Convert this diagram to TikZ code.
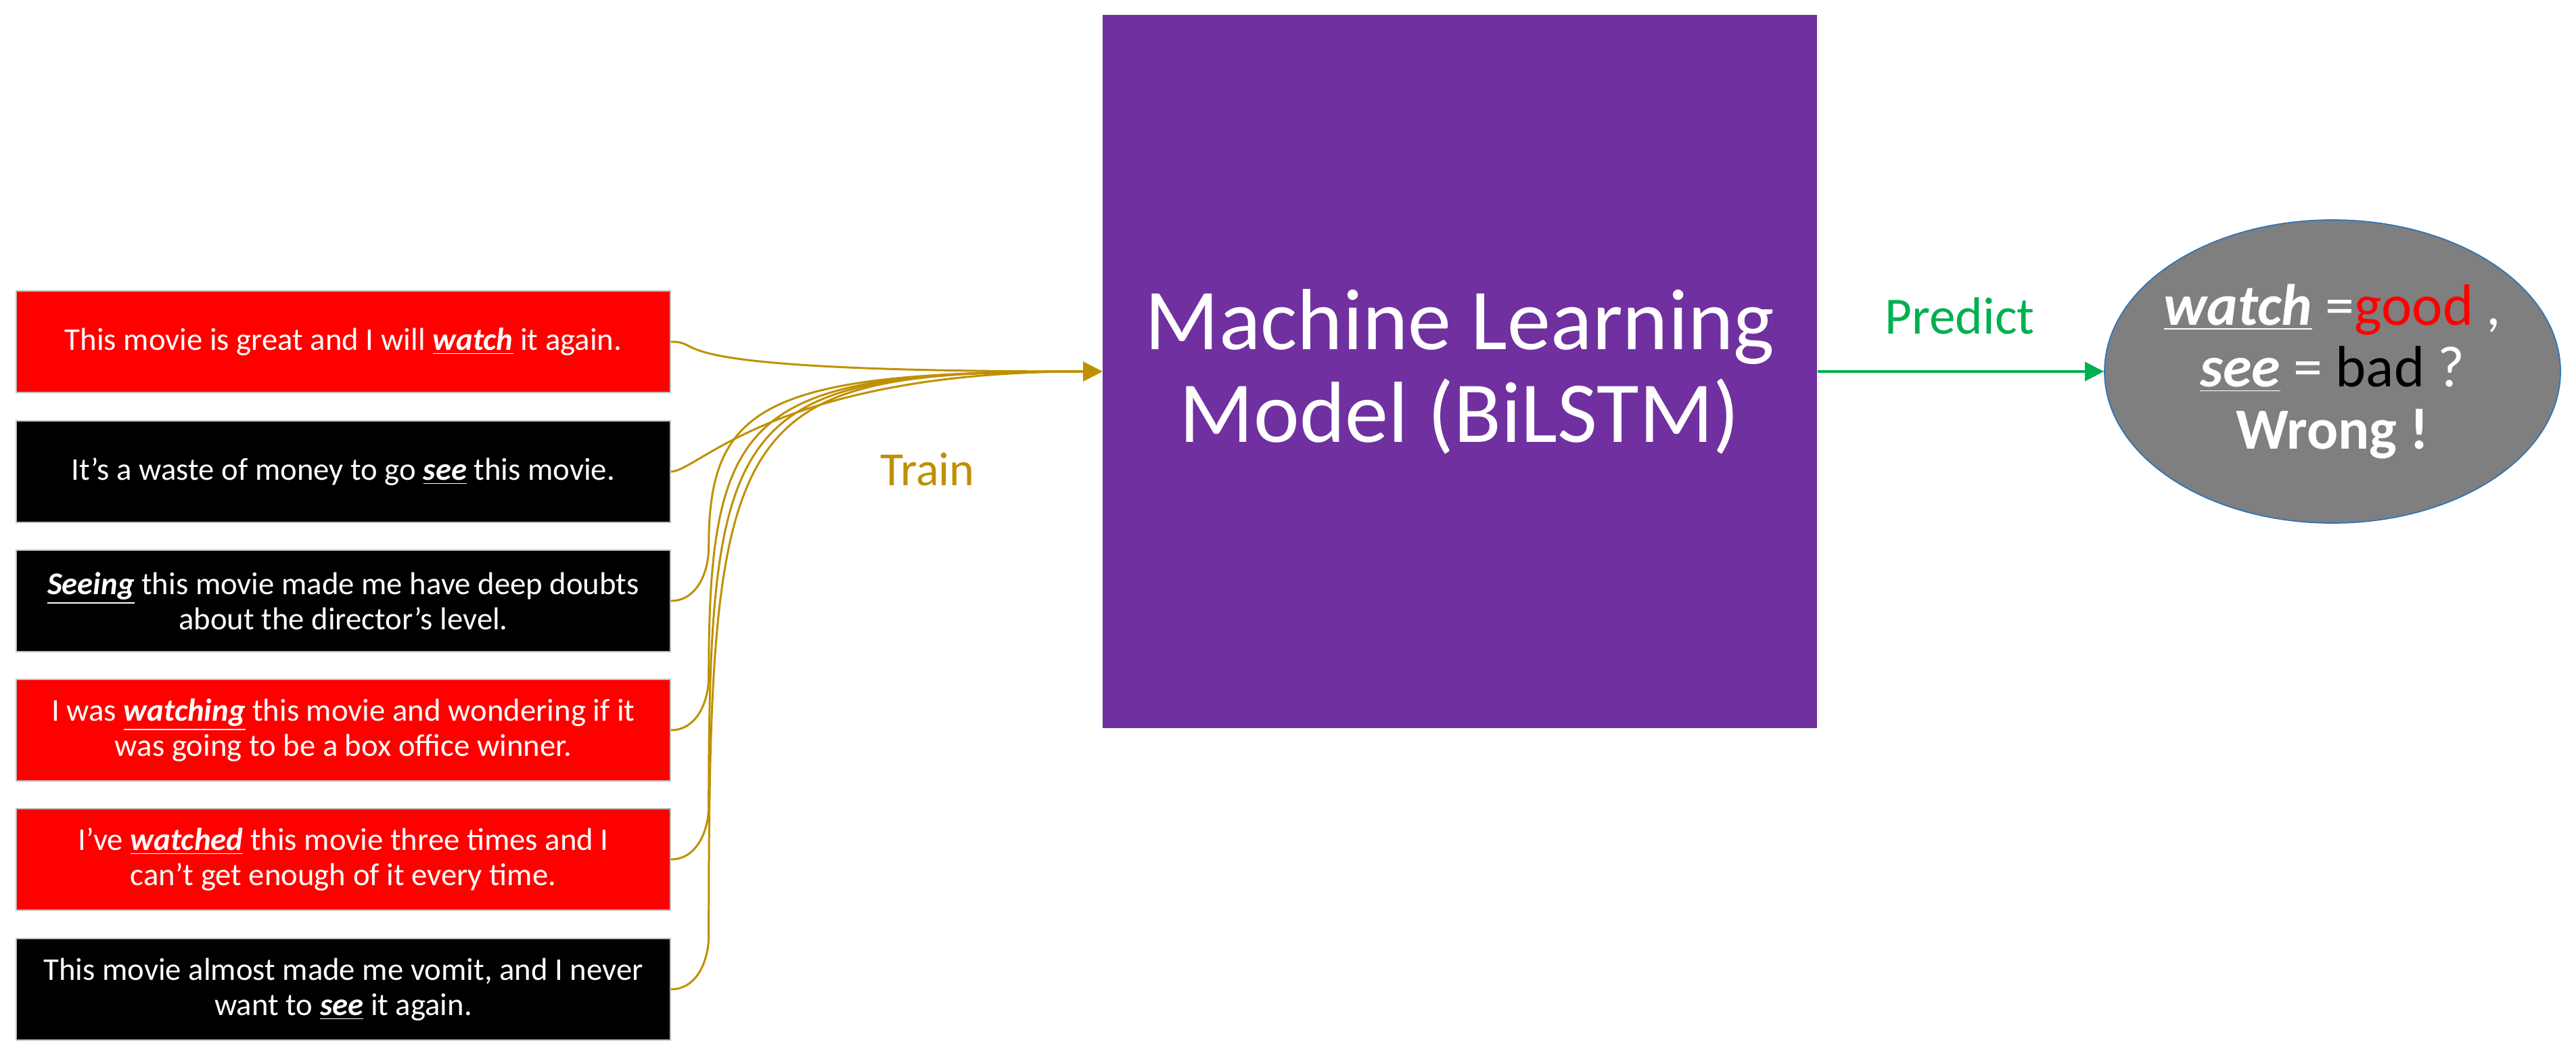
\documentclass[tikz,border=0pt]{standalone}
\usepackage{fontspec}
\setmainfont{Carlito}
\usetikzlibrary{positioning, arrows.meta, shapes.geometric}
\definecolor{sentRed}{RGB}{255,0,0}
\definecolor{modelPurple}{RGB}{112,48,160}
\definecolor{trainGold}{RGB}{191,144,0}
\definecolor{predGreen}{RGB}{0,176,80}
\definecolor{outGray}{RGB}{127,127,127}
\definecolor{outBlue}{RGB}{46,117,182}
\newcommand{\keyword}[1]{\underline{\textbf{\textit{#1}}}}

\begin{document}
\begin{tikzpicture}[
  sentence/.style={draw=black!25, line width=0.4pt, minimum width=9.67cm, minimum height=1.5cm,
                   inner sep=0pt, align=center, text=white, font=\fontsize{13.3}{14.8}\selectfont},
  goodsent/.style={sentence, fill=sentRed},
  badsent/.style={sentence, fill=black},
  train/.style={draw=trainGold, line width=0.85pt, -{Triangle[length=0.28cm, width=0.28cm]}},
  predict/.style={draw=predGreen, line width=1pt, -{Triangle[length=0.28cm, width=0.28cm]}},
]
  \useasboundingbox (0,0) rectangle (38.08,15.61);

  \node[goodsent] (s1) at (5.075,10.56) {This movie is great and I will \keyword{watch} it again.};
  \node[badsent]  (s2) at (5.075, 8.64) {It's a waste of money to go \keyword{see} this movie.};
  \node[badsent]  (s3) at (5.075, 6.73) {\keyword{Seeing} this movie made me have deep doubts\\about the director's level.};
  \node[goodsent] (s4) at (5.075, 4.82) {I was \keyword{watching} this movie and wondering if it\\was going to be a box office winner.};
  \node[goodsent] (s5) at (5.075, 2.91) {I've \keyword{watched} this movie three times and I\\can't get enough of it every time.};
  \node[badsent]  (s6) at (5.075, 0.99) {This movie almost made me vomit, and I never\\want to \keyword{see} it again.};

  \node[fill=modelPurple, minimum width=10.56cm, minimum height=10.54cm, inner sep=0pt,
        align=center, text=white, font=\fontsize{36.5}{39}\selectfont]
    (model) at (21.58,10.12) {Machine Learning\\Model (BiLSTM)};

  \node[ellipse, fill=outGray, draw=outBlue, line width=0.5pt, minimum width=6.74cm,
        minimum height=4.48cm, inner sep=0pt, inner xsep=-0.6cm, align=center, text=white,
        font=\fontsize{24.5}{26}\selectfont]
    (out) at (34.48,10.12) {\keyword{watch} =\textcolor{red}{good} ,\\
                            \keyword{see} = \textcolor{black}{bad} ?\\
                            \textbf{Wrong !}};

  \node[text=trainGold, font=\fontsize{20}{24}\selectfont] (trainlbl) at (13.71,8.67) {Train};
  \node[text=predGreen, font=\fontsize{22}{26}\selectfont] (predlbl) at (28.97,10.94) {Predict};

  \draw[train] (s1.east) .. controls +(0.6,0) and +(-6.9,0) .. (model.west);
  \draw[train] (s2.east) .. controls +(0.4,0) and +(-4.8,0) .. (model.west);
  \foreach \i/\a/\b in {3/2.1/5.0, 4/4.0/5.2, 5/5.9/5.4, 6/7.8/5.5}
    \draw[train] (s\i.east) to[out=0,in=-90] ++(0.56,0.8)
                 .. controls +(0,\a) and +(-\b,0) .. (model.west);

  \draw[predict] (model.east) -- (out.west);
\end{tikzpicture}
\end{document}
